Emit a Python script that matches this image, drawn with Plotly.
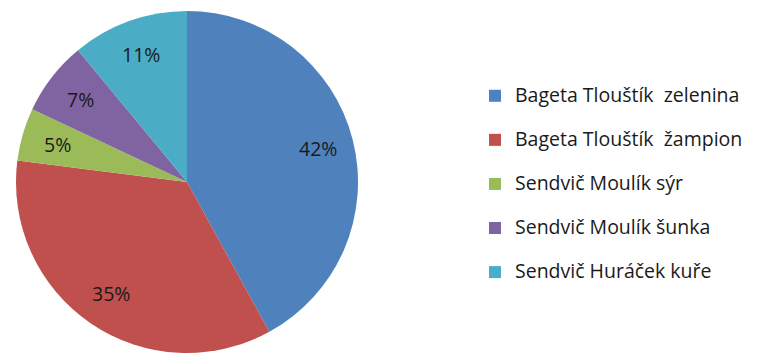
import math
import plotly.graph_objects as go

# Sales share by product
products = [
    "Bageta Tlouštík  zelenina",
    "Bageta Tlouštík  žampion",
    "Sendvič Moulík sýr",
    "Sendvič Moulík šunka",
    "Sendvič Huráček kuře",
]
shares = [42, 35, 5, 7, 11]
colors = ["#4F81BD", "#C0504D", "#9BBB59", "#8064A2", "#4BACC6"]

W, H = 757, 353
FONT = "Open Sans"
TEXT_COLOR = "#1a1a1a"

# pie placement (paper fractions)
dom_x = [16 / W, 358 / W]
dom_y = [0, 0.969]

# legend entries get an empty second line so rows are spaced apart
legend_labels = [
    f"<span style='font-size:19.5px'>{p.replace('  ', chr(160) + ' ')}</span><br>\u00a0"
    for p in products
]

fig = go.Figure(
    go.Pie(
        labels=legend_labels,
        values=shares,
        sort=False,
        direction="clockwise",
        rotation=0,
        marker=dict(colors=colors, line=dict(width=0)),
        textinfo="none",
        domain=dict(x=dom_x, y=dom_y),
        hoverinfo="skip",
    )
)

# percentage labels placed at ~80 % of the radius, on each slice's mid-angle
cx = (dom_x[0] + dom_x[1]) / 2 * W
cy = (dom_y[0] + dom_y[1]) / 2 * H
radius = min((dom_x[1] - dom_x[0]) * W, (dom_y[1] - dom_y[0]) * H) / 2
total = sum(shares)
start = 0.0
for v in shares:
    mid = (start + v / 2) / total * 2 * math.pi
    start += v
    px = cx + 0.79 * radius * math.sin(mid)
    py = cy + 0.79 * radius * math.cos(mid)
    fig.add_annotation(
        x=px / W,
        y=py / H,
        xref="paper",
        yref="paper",
        text=f"{v}%",
        showarrow=False,
        font=dict(family=FONT, size=19.5, color=TEXT_COLOR),
        xanchor="center",
        yanchor="middle",
    )

fig.update_layout(
    width=W,
    height=H,
    margin=dict(l=0, r=0, t=0, b=0),
    paper_bgcolor="white",
    plot_bgcolor="white",
    showlegend=True,
    legend=dict(
        x=475 / W,
        y=1 - 79 / H,
        xanchor="left",
        yanchor="top",
        valign="top",
        font=dict(family=FONT, size=15.8, color=TEXT_COLOR),
        itemwidth=30,
    ),
)

fig.write_html("out.html")
